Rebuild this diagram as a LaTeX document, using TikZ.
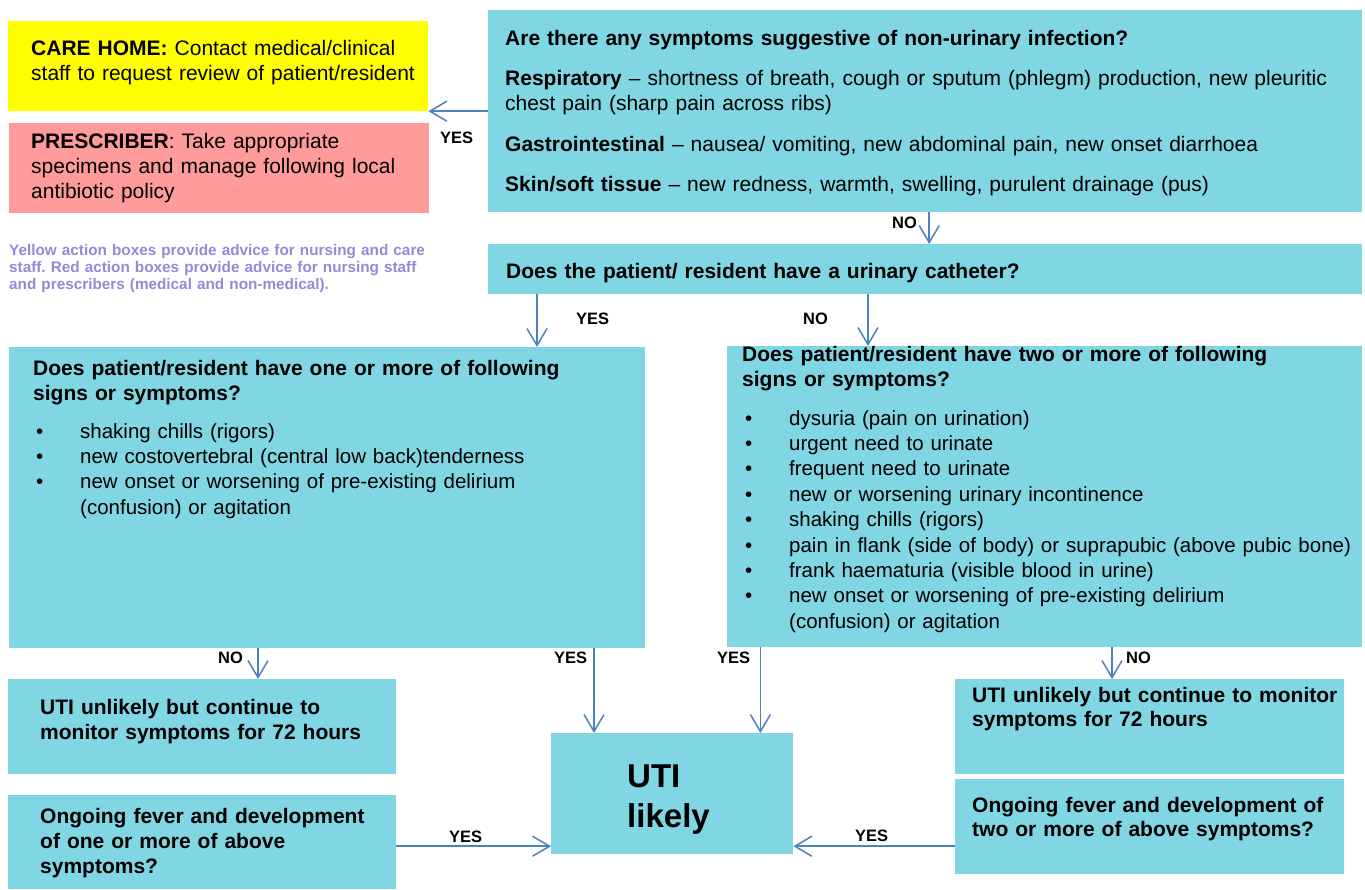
\documentclass[tikz,border=0pt]{standalone}
\usepackage{fontspec}
\setmainfont{Liberation Sans}
\usetikzlibrary{arrows.meta,calc}
\definecolor{boxcyan}{RGB}{128,214,226}
\definecolor{boxyellow}{RGB}{255,255,0}
\definecolor{boxred}{RGB}{255,155,155}
\definecolor{arrowblue}{RGB}{79,129,189}
\definecolor{legendpurple}{RGB}{150,136,216}
\tikzset{
  box/.style={fill=#1, draw=none, inner sep=0pt, anchor=north west},
  box/.default=boxcyan,
  txt/.style={anchor=base west, inner sep=0pt, align=left, text width=#1,
    font=\fontsize{21}{25.4}\selectfont},
  txt/.default=620pt,
  bl/.style={font=\fontsize{20.5}{25.4}\selectfont},
  arr/.style={draw=arrowblue, line width=1.5pt,
    -{Straight Barb[length=17pt,width=20pt,line width=1.5pt]}},
  lbl/.style={anchor=base west, inner sep=0pt, font=\bfseries\fontsize{16.5}{18}\selectfont},
}
\newcommand{\bul}[1]{\makebox[44pt][l]{\textbullet}#1}
\newcommand{\ind}{\hspace*{44pt}}
\frenchspacing
\begin{document}
\frenchspacing
\begin{tikzpicture}[x=1pt,y=-1pt]
\useasboundingbox (0,0) rectangle (1365,889);
% boxes
\node[box=boxyellow, minimum width=420pt, minimum height=90pt] (care) at (8,21) {};
\node[box=boxred, minimum width=420pt, minimum height=90pt] (presc) at (9,123) {};
\node[box, minimum width=874pt, minimum height=202pt] (q1) at (488,10) {};
\node[box, minimum width=874pt, minimum height=50pt] (q2) at (488,244) {};
\node[box, minimum width=636pt, minimum height=301pt] (qa) at (9,347) {};
\node[box, minimum width=635pt, minimum height=301pt] (qb) at (727,346) {};
\node[box, minimum width=388pt, minimum height=95pt] (unl) at (8,679) {};
\node[box, minimum width=388pt, minimum height=94pt] (ongl) at (8,795) {};
\node[box, minimum width=242pt, minimum height=121pt] (uti) at (551,733) {};
\node[box, minimum width=389pt, minimum height=95pt] (unr) at (955,679) {};
\node[box, minimum width=389pt, minimum height=95pt] (ongr) at (955,779) {};
% texts
\node[txt=400pt] (caret) at (31,55) {\textbf{CARE HOME:} Contact medical/clinical\\staff to request review of patient/resident};
\node[txt=400pt] (prescT) at (31,148) {\textbf{PRESCRIBER}: Take appropriate\\specimens and manage following local\\antibiotic policy};
\node[anchor=base west, inner sep=0pt, align=left, text width=440pt, text=legendpurple,
  font=\bfseries\fontsize{15.3}{17}\selectfont] (legend) at (9,255)
  {Yellow action boxes provide advice for nursing and care\\staff. Red action boxes provide advice for nursing staff\\and prescribers (medical and non-medical).};
\node[txt=850pt] (q1t) at (505,45) {\textbf{Are there any symptoms suggestive of non-urinary infection?}\\[15pt]
\textbf{Respiratory} -- shortness of breath, cough or sputum (phlegm) production, new pleuritic\\chest pain (sharp pain across ribs)\\[15pt]
\textbf{Gastrointestinal} -- nausea/ vomiting, new abdominal pain, new onset diarrhoea\\[15pt]
\textbf{Skin/soft tissue} -- new redness, warmth, swelling, purulent drainage (pus)};
\node[txt=850pt, font=\bfseries\fontsize{21}{25.4}\selectfont] (q2t) at (506,278) {Does the patient/ resident have a urinary catheter?};
\node[txt=600pt] (qat) at (33,375) {\textbf{Does patient/resident have one or more of following}\\\textbf{signs or symptoms?}};
\node[txt=600pt, bl] (qal) at (36,438) {\bul{shaking chills (rigors)}\\\bul{new costovertebral (central low back)tenderness}\\\bul{new onset or worsening of pre-existing delirium}\\\ind(confusion) or agitation};
\node[txt=620pt] (qbt) at (742,361) {\textbf{Does patient/resident have two or more of following}\\\textbf{signs or symptoms?}};
\node[txt=620pt, bl] (qbl) at (745,425) {\bul{dysuria (pain on urination)}\\\bul{urgent need to urinate}\\\bul{frequent need to urinate}\\\bul{new or worsening urinary incontinence}\\\bul{shaking chills (rigors)}\\\bul{pain in flank (side of body) or suprapubic (above pubic bone)}\\\bul{frank haematuria (visible blood in urine)}\\\bul{new onset or worsening of pre-existing delirium}\\\ind(confusion) or agitation};
\node[txt=360pt, font=\bfseries\fontsize{21}{25}\selectfont] (unlt) at (40,714) {UTI unlikely but continue to\\monitor symptoms for 72 hours};
\node[txt=360pt, font=\bfseries\fontsize{21}{25}\selectfont] (onglt) at (40,823) {Ongoing fever and development\\of one or more of above\\symptoms?};
\node[txt=200pt, font=\bfseries\fontsize{33}{40}\selectfont] (utit) at (627,787) {UTI\\likely};
\node[txt=380pt, font=\bfseries\fontsize{21}{24}\selectfont] (unrt) at (972,702) {UTI unlikely but continue to monitor\\symptoms for 72 hours};
\node[txt=380pt, font=\bfseries\fontsize{21}{24}\selectfont] (ongrt) at (972,812) {Ongoing fever and development of\\two or more of above symptoms?};
% connectors
\draw[arr] (q1.west) -- (q1.west -| care.east);
\draw[arr] ([xshift=4pt]q1.south) -- ([xshift=4pt]q1.south |- q2.north);
\draw[arr] ([xshift=49pt]q2.south west) -- ([xshift=49pt]q2.south west |- qa.north);
\draw[arr] ([xshift=380pt]q2.south west) -- ([xshift=380pt]q2.south west |- qb.north);
\draw[arr] ([xshift=249pt]qa.south west) -- ([xshift=249pt]qa.south west |- unl.north);
\draw[arr] ([xshift=43pt]uti.north west |- qa.south) -- ([xshift=43pt]uti.north west);
\draw[arr] ([xshift=-33pt]uti.north east |- qb.south) -- ([xshift=-33pt]uti.north east);
\draw[arr] ([xshift=157pt]unr.north west |- qb.south) -- ([xshift=157pt]unr.north west);
\draw[arr] ([yshift=-4pt]ongl.east) -- ([yshift=-4pt]ongl.east -| uti.west);
\draw[arr] ([yshift=-19.5pt]ongr.west) -- ([yshift=-19.5pt]ongr.west -| uti.east);
% labels
\node[lbl] (l1) at (440,143) {YES};
\node[lbl] (l2) at (892,228) {NO};
\node[lbl] (l3) at (576,324) {YES};
\node[lbl] (l4) at (803,324) {NO};
\node[lbl] (l5) at (218,663) {NO};
\node[lbl] (l6) at (554,663) {YES};
\node[lbl] (l7) at (717,663) {YES};
\node[lbl] (l8) at (1126,663) {NO};
\node[lbl] (l9) at (449,842) {YES};
\node[lbl] (l10) at (855,841) {YES};
\end{tikzpicture}
\end{document}
